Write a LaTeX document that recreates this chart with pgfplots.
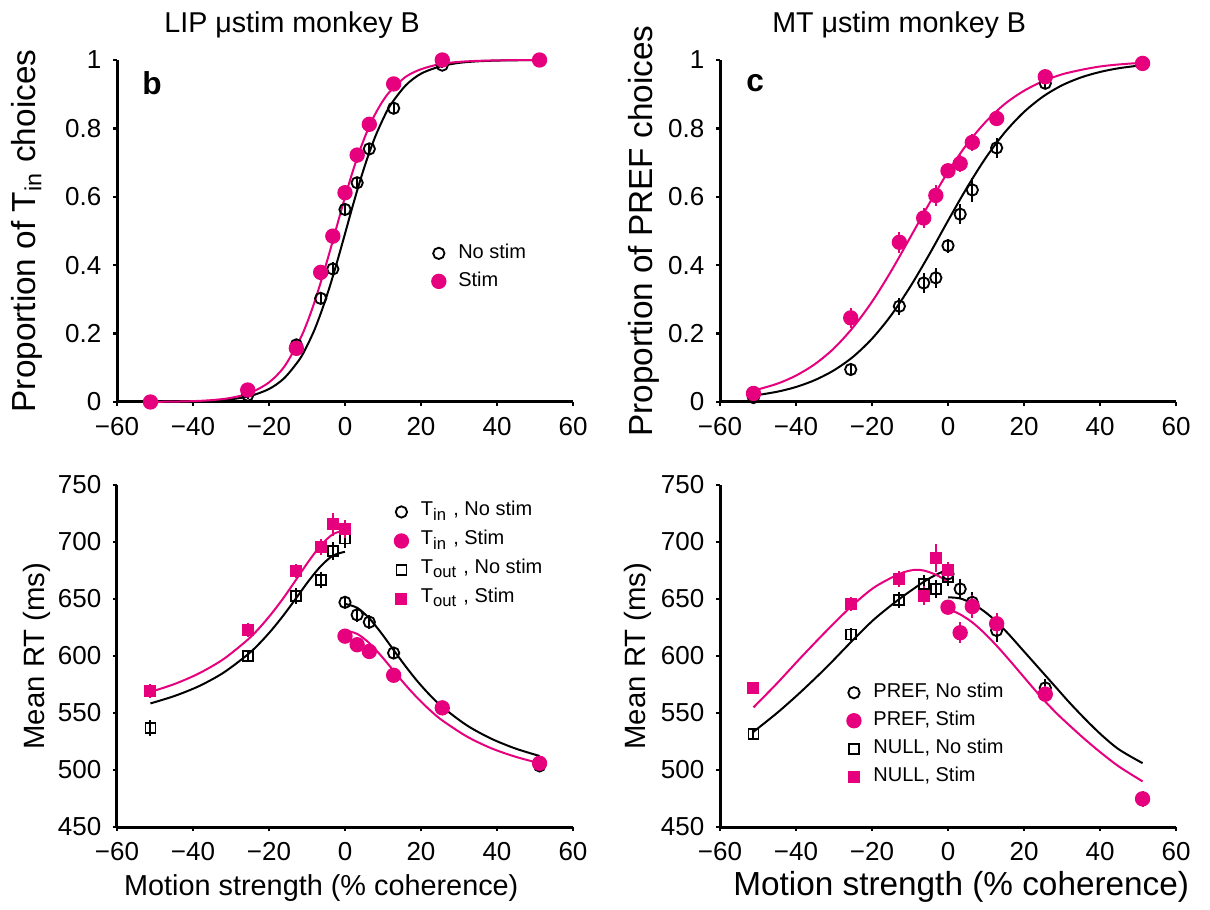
\documentclass[border=0pt]{standalone}
\usepackage{fontspec}
\setmainfont{Liberation Sans}
\usepackage{pgfplots}
\pgfplotsset{compat=1.18}
\usepgfplotslibrary{groupplots}
\definecolor{stimpink}{RGB}{230,0,126}

\pgfplotsset{
  fitK/.style={black, line width=0.6pt, smooth, no marks, forget plot},
  fitP/.style={stimpink, line width=0.6pt, smooth, no marks, forget plot},
  ebars/.style={error bars/.cd, y dir=both, y explicit, error mark=none,
    error bar style={line width=0.6pt}},
  legmark/.style={legend image code/.code={%
    \path[draw=none] (-0.06cm,0cm) -- (0.17cm,0cm);
    \draw[##1] plot coordinates {(0cm,0cm)};}},
  opencirc/.style={only marks, mark=o, mark size=1.7pt, black,
    mark options={line width=0.55pt}, legmark, ebars},
  fillcirc/.style={only marks, mark=*, mark size=2.1pt, stimpink,
    mark options={fill=stimpink}, legmark, ebars},
  opensq/.style={only marks, mark=square, mark size=1.5pt, black,
    mark options={line width=0.55pt}, legmark, ebars},
  fillsq/.style={only marks, mark=square*, mark size=1.6pt, stimpink,
    mark options={fill=stimpink}, legmark, ebars},
}

\begin{document}
\begin{tikzpicture}
\begin{groupplot}[
  group style={group size=2 by 2, horizontal sep=44.1pt, vertical sep=24.9pt},
  scale only axis,
  width=136.8pt, height=102.6pt,
  axis x line*=bottom, axis y line*=left,
  axis line style={line width=0.9pt, -},
  tick align=outside, major tick length=1.2pt,
  tick style={line width=0.7pt, black},
  xmin=-60, xmax=60,
  xtick={-60,-40,-20,0,20,40,60},
  xticklabels={−60,−40,−20,0,20,40,60},
  tick label style={font=\fontsize{7.8}{9}\selectfont},
  title style={font=\fontsize{8.6}{10}\selectfont, anchor=base, yshift=2.1pt},
  clip=false,
  legend cell align=left,
  legend style={draw=none, fill=none, font=\fontsize{6}{7}\selectfont,
    row sep=0pt, nodes={inner sep=1pt, text height=4.6pt, text depth=1.8pt}},
]
% ---- b: LIP choices
\nextgroupplot[
  title={LIP μstim monkey B},
  title style={at={(axis description cs:0.384,1)}},
  ymin=0, ymax=1, ytick={0,0.2,0.4,0.6,0.8,1},
  yticklabels={0,0.2,0.4,0.6,0.8,1},
  ylabel={Proportion of T\textsubscript{in} choices},
  ylabel style={at={(axis description cs:-0.178,0.5)}, anchor=base,
    font=\fontsize{10}{12}\selectfont},
  legend style={at={(rel axis cs:0.667,0.497)}, anchor=north west},
]
\coordinate (tlc) at (rel axis cs:0,1);
\addplot[fitK] coordinates {(-51.2,0.0003)(-45,0.0007)(-40,0.0016)(-35,0.0036)(-30,0.0079)(-25,0.0174)(-20,0.038)(-16,0.0696)(-12,0.124)(-10,0.164)(-8,0.212)(-6,0.271)(-4,0.338)(-2,0.413)(0,0.492)(2,0.572)(4,0.648)(6,0.717)(8,0.777)(10,0.827)(12,0.869)(16,0.926)(20,0.960)(25,0.981)(30,0.9916)(35,0.9962)(40,0.9983)(45,0.9992)(51.2,0.9997)};
\addplot[fitP] coordinates {(-51.2,0.0004)(-45,0.0011)(-40,0.0025)(-35,0.0055)(-30,0.0121)(-25,0.0266)(-20,0.0573)(-16,0.103)(-12,0.180)(-10,0.231)(-8,0.293)(-6,0.364)(-4,0.440)(-2,0.520)(0,0.599)(2,0.673)(4,0.739)(6,0.796)(8,0.843)(10,0.881)(12,0.910)(16,0.951)(20,0.973)(25,0.988)(30,0.9945)(35,0.9975)(40,0.9989)(45,0.9995)(51.2,0.9998)};
\addplot[opencirc] coordinates {
  (-51.2,0.0) +- (0,0.004) (-25.6,0.02) +- (0,0.01) (-12.8,0.167) +- (0,0.015)
  (-6.4,0.303) +- (0,0.015) (-3.2,0.389) +- (0,0.02) (0,0.563) +- (0,0.015)
  (3.2,0.641) +- (0,0.018) (6.4,0.740) +- (0,0.015) (12.8,0.859) +- (0,0.015)
  (25.6,0.985) +- (0,0.008) (51.2,1.0) +- (0,0.003)};
\addlegendentry{No stim}
\addplot[fillcirc] coordinates {
  (-51.2,0.0) +- (0,0.003) (-25.6,0.035) +- (0,0.01) (-12.8,0.157) +- (0,0.015)
  (-6.4,0.379) +- (0,0.02) (-3.2,0.485) +- (0,0.022) (0,0.612) +- (0,0.02)
  (3.2,0.722) +- (0,0.022) (6.4,0.812) +- (0,0.02) (12.8,0.930) +- (0,0.012)
  (25.6,1.0) +- (0,0.005) (51.2,1.0) +- (0,0.003)};
\addlegendentry{Stim}
\node[font=\bfseries\fontsize{9.5}{11}\selectfont] at (rel axis cs:0.077,0.932) {b};

% ---- c: MT choices
\nextgroupplot[
  title={MT μstim monkey B},
  title style={at={(axis description cs:0.393,1)}},
  ymin=0, ymax=1, ytick={0,0.2,0.4,0.6,0.8,1},
  yticklabels={0,0.2,0.4,0.6,0.8,1},
  ylabel={Proportion of PREF choices},
  ylabel style={at={(axis description cs:-0.149,0.5)}, anchor=base,
    font=\fontsize{10}{12}\selectfont},
]
\addplot[fitK] coordinates {(-51.2,0.0184)(-45,0.0299)(-40,0.0439)(-35,0.0642)(-30,0.0928)(-25,0.132)(-20,0.185)(-15,0.253)(-10,0.336)(-5,0.430)(0,0.530)(5,0.627)(10,0.715)(15,0.789)(20,0.848)(25,0.893)(30,0.926)(35,0.949)(40,0.965)(45,0.976)(51.2,0.985)};
\addplot[fitP] coordinates {(-51.2,0.0331)(-45,0.0532)(-40,0.0773)(-35,0.111)(-30,0.157)(-25,0.218)(-20,0.293)(-15,0.382)(-10,0.480)(-5,0.579)(0,0.673)(5,0.754)(10,0.820)(15,0.872)(20,0.910)(25,0.938)(30,0.958)(35,0.971)(40,0.981)(45,0.987)(51.2,0.992)};
\addplot[opencirc] coordinates {
  (-51.2,0.013) +- (0,0.008) (-25.6,0.095) +- (0,0.012) (-12.8,0.280) +- (0,0.025)
  (-6.4,0.348) +- (0,0.03) (-3.2,0.363) +- (0,0.03) (0,0.457) +- (0,0.02)
  (3.2,0.549) +- (0,0.03) (6.4,0.620) +- (0,0.035) (12.8,0.743) +- (0,0.03)
  (25.6,0.932) +- (0,0.015) (51.2,0.988) +- (0,0.005)};
\addplot[fillcirc] coordinates {
  (-51.2,0.025) +- (0,0.01) (-25.6,0.246) +- (0,0.03) (-12.8,0.467) +- (0,0.03)
  (-6.4,0.538) +- (0,0.03) (-3.2,0.604) +- (0,0.03) (0,0.676) +- (0,0.022)
  (3.2,0.697) +- (0,0.025) (6.4,0.759) +- (0,0.025) (12.8,0.829) +- (0,0.02)
  (25.6,0.951) +- (0,0.012) (51.2,0.990) +- (0,0.005)};
\node[font=\bfseries\fontsize{9.5}{11}\selectfont] at (rel axis cs:0.077,0.931) {c};

% ---- LIP reaction times
\nextgroupplot[
  ymin=450, ymax=750, ytick={450,500,...,750},
  yticklabels={450,500,550,600,650,700,750},
  ylabel={Mean RT (ms)},
  ylabel style={at={(axis description cs:-0.158,0.5)}, anchor=base,
    font=\fontsize{8.8}{10}\selectfont},
  xlabel={Motion strength (\% coherence)},
  xlabel style={at={(axis description cs:0.448,-0.201)}, anchor=base,
    font=\fontsize{8.65}{10}\selectfont},
  legend style={at={(rel axis cs:0.585,0.985)}, anchor=north west,
    nodes={text height=4.5pt, text depth=2.2pt}},
]
\addplot[fitK] coordinates {(-51.2,558.4)(-44.8,565.0)(-38.4,573.6)(-32,585.3)(-25.6,601.3)(-22.4,611.4)(-19.2,623.2)(-16,636.5)(-12.8,651.0)(-9.6,665.7)(-6.4,678.7)(-3.2,688.0)(0,691.4)};
\addplot[fitK] coordinates {(0,645.7)(3.2,642.3)(6.4,633.0)(9.6,619.9)(12.8,605.2)(16,590.7)(19.2,577.3)(22.4,565.5)(25.6,555.3)(32,539.3)(38.4,527.6)(44.8,518.9)(51.2,512.3)};
\addplot[fitP] coordinates {(-51.2,568.5)(-44.8,575.5)(-38.4,584.8)(-32,597.2)(-25.6,614.3)(-22.4,625.1)(-19.2,637.7)(-16,651.8)(-12.8,667.3)(-9.6,682.9)(-6.4,696.9)(-3.2,706.8)(0,710.4)};
\addplot[fitP] coordinates {(0,622.4)(3.2,619.4)(6.4,611.3)(9.6,599.8)(12.8,587.0)(16,574.3)(19.2,562.7)(22.4,552.4)(25.6,543.5)(32,529.5)(38.4,519.2)(44.8,511.7)(51.2,505.9)};
\addplot[opencirc] coordinates {
  (0,647.1) +- (0,5) (3.2,636.1) +- (0,6) (6.4,629.7) +- (0,6)
  (12.8,602.6) +- (0,5) (25.6,554.0) +- (0,4) (51.2,503.6) +- (0,3)};
\addlegendentry{T\textsubscript{in} , No stim}
\addplot[fillcirc] coordinates {
  (0,617.4) +- (0,5) (3.2,609.9) +- (0,6) (6.4,604.0) +- (0,5)
  (12.8,583.1) +- (0,5) (25.6,554.5) +- (0,4) (51.2,505.9) +- (0,3)};
\addlegendentry{T\textsubscript{in} , Stim}
\addplot[opensq] coordinates {
  (-51.2,537.0) +- (0,7) (-25.6,600.3) +- (0,5) (-12.8,652.7) +- (0,7)
  (-6.4,667.0) +- (0,7) (-3.2,692.3) +- (0,8) (0,703.1) +- (0,8)};
\addlegendentry{T\textsubscript{out} , No stim}
\addplot[fillsq] coordinates {
  (-51.2,569.4) +- (0,6) (-25.6,623.0) +- (0,6) (-12.8,674.8) +- (0,6)
  (-6.4,695.2) +- (0,7) (-3.2,715.6) +- (0,10) (0,711.3) +- (0,8)};
\addlegendentry{T\textsubscript{out} , Stim}

% ---- MT reaction times
\nextgroupplot[
  ymin=450, ymax=750, ytick={450,500,...,750},
  yticklabels={450,500,550,600,650,700,750},
  ylabel={Mean RT (ms)},
  ylabel style={at={(axis description cs:-0.164,0.5)}, anchor=base,
    font=\fontsize{8.8}{10}\selectfont},
  xlabel={Motion strength (\% coherence)},
  xlabel style={at={(axis description cs:0.529,-0.201)}, anchor=base,
    font=\fontsize{10}{12}\selectfont},
  legend style={at={(rel axis cs:0.255,0.455)}, anchor=north west},
]
\addplot[fitK] coordinates {(-51.2,533.5)(-45,550.0)(-38.9,568.0)(-32,590.0)(-25.6,612.0)(-19.5,632.0)(-12.8,650.0)(-6.4,665.0)(-3,671.5)(0,676.0)};
\addplot[fitK] coordinates {(0,651.5)(3.2,650.5)(6.4,646.0)(9.6,639.0)(12.8,630.0)(16,619.0)(19.2,607.0)(22.4,595.0)(25.6,583.0)(28.8,571.0)(32,559.0)(36,545.0)(40.3,531.0)(45,518.0)(51.2,506.0)};
\addplot[fitP] coordinates {(-51.2,554.9)(-45,576.0)(-38.9,598.0)(-32,622.0)(-25.6,643.0)(-19.5,660.0)(-12.8,672.0)(-9,675.5)(-6.4,675.0)(-3,671.0)(0,665.0)};
\addplot[fitP] coordinates {(0,641.4)(3.2,636.5)(6.4,629.5)(9.6,620.0)(12.8,609.0)(16,597.0)(19.2,584.5)(22.4,572.0)(25.6,560.0)(28.8,549.0)(32,539.0)(36,527.0)(40.3,515.0)(45,503.0)(51.2,490.0)};
\addplot[opencirc] coordinates {
  (0,672.0) +- (0,7) (3.2,658.8) +- (0,9) (6.4,647.1) +- (0,9)
  (12.8,622.4) +- (0,10) (25.6,572.0) +- (0,8) (51.2,474.7) +- (0,6)};
\addlegendentry{PREF, No stim}
\addplot[fillcirc] coordinates {
  (0,642.8) +- (0,6) (3.2,620.4) +- (0,9) (6.4,643.4) +- (0,10)
  (12.8,628.3) +- (0,9) (25.6,566.5) +- (0,7) (51.2,474.7) +- (0,7)};
\addlegendentry{PREF, Stim}
\addplot[opensq] coordinates {
  (-51.2,531.3) +- (0,5) (-25.6,618.9) +- (0,6) (-12.8,649.2) +- (0,7)
  (-6.4,663.2) +- (0,8) (-3.2,658.8) +- (0,8) (0,669.6) +- (0,8)};
\addlegendentry{NULL, No stim}
\addplot[fillsq] coordinates {
  (-51.2,572.3) +- (0,5) (-25.6,645.7) +- (0,6) (-12.8,667.6) +- (0,7)
  (-6.4,653.0) +- (0,8) (-3.2,685.9) +- (0,12) (0,675.7) +- (0,7)};
\addlegendentry{NULL, Stim}
\end{groupplot}
\pgfresetboundingbox
\path (tlc) ++(-35.1pt,18pt) rectangle ++(363pt,-272.7pt);
\end{tikzpicture}
\end{document}
